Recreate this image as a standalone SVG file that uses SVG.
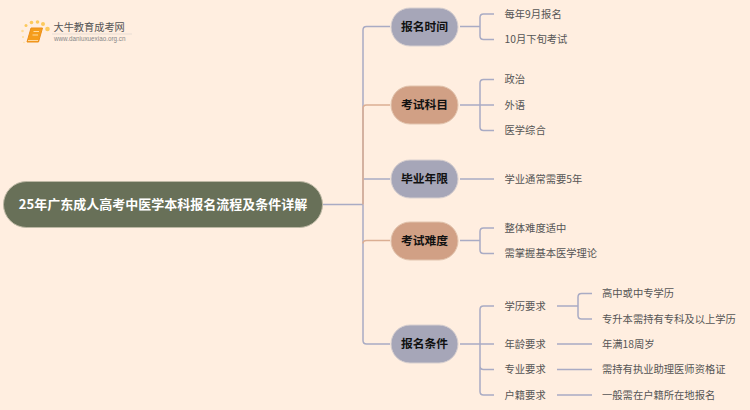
<svg xmlns="http://www.w3.org/2000/svg" width="750" height="410" viewBox="0 0 750 410">
<style>
text{font-family:"Noto Sans CJK SC","Noto Sans",sans-serif}
.c{fill:none;stroke:#a9abc4;stroke-width:1.500}
.p{fill:none;stroke:#dbae93;stroke-width:1.500}
.b{font-size:11.800px;font-weight:700;fill:#111;text-anchor:middle}
.l{font-size:10.300px;fill:#555}
.g{fill:#a6a6b8;stroke:#d8d0d0;stroke-width:1}
.o{fill:#d1a085;stroke:#e2c4ae;stroke-width:1}
.s{fill:#fcc95c}
</style>
<rect width="750" height="410" fill="#ffeee0"/>
<g id="connectors">
<path class="c" d="M323 204.500H363M363 204.500V30Q363 26.500 366.500 26.500H390"/>
<path class="c" d="M363 204.500V340.500Q363 344 366.500 344H390"/>
<path class="c" d="M363 179H390"/>
<path class="p" d="M363 204.500V108.500Q363 105 366.500 105H390"/>
<path class="p" d="M363 243.500Q363 240.500 366.500 240.500H390"/>
<path class="c" d="M460 26.500H480M480 26.500V17.500Q480 14 483.500 14H494M480 26.500V36Q480 39.500 483.500 39.500H494"/>
<path class="c" d="M460 105H494M480 105V83Q480 79.500 483.500 79.500H494M480 105V127Q480 130.500 483.500 130.500H494"/>
<path class="c" d="M460 179H494"/>
<path class="c" d="M460 240.500H480M480 240.500V231.500Q480 228 483.500 228H494M480 240.500V250Q480 253.500 483.500 253.500H494"/>
<path class="c" d="M460 344H480M480 344V309.500Q480 306 483.500 306H494M480 344H494M480 344V366Q480 369.500 483.500 369.500H494M480 344V391.500Q480 395 483.500 395H494"/>
<path class="c" d="M557 306H578M578 306V297Q578 293.500 581.500 293.500H592M578 306V315.500Q578 319 581.500 319H592"/>
<path class="c" d="M557 344H592M557 369.500H592M557 395H592"/>
</g>
<g id="logo">
<circle class="s" cx="26" cy="25.500" r="1.500"/><circle class="s" cx="31.500" cy="22.500" r="1.800"/><circle class="s" cx="37.500" cy="22" r="1.800"/><circle class="s" cx="43" cy="24" r="2"/><circle class="s" cx="47.500" cy="29" r="2.300"/><circle cx="22.500" cy="31" r="1.300" fill="#ffdc96"/><circle cx="23" cy="37" r="1" fill="#ffdc96"/><circle cx="24" cy="42.500" r="0.800" fill="#ffe2aa"/>
<path d="M31 28H42.500L38.500 42H27Z" fill="#f59d1c" stroke="#ec8f1a" stroke-width="1"/>
<path d="M33.500 31.500H39M32.500 35H38" stroke="#ffdca0" stroke-width="1" fill="none"/>
<path d="M28 40.500H38" stroke="#ffd9a0" stroke-width="1"/>
<text x="53.500" y="31" font-size="10.200" fill="#555">大牛教育成考网</text>
<text x="54" y="41" style="font-family:'Liberation Sans',sans-serif" font-size="6.300" fill="#888">www.daniuxuexiao.org.cn</text>
<path d="M52 34H132" stroke="#e8ddd4" stroke-width="1"/>
</g>
<g id="root"><rect x="3.500" y="181.500" width="319" height="46" rx="23" fill="#687058" stroke="#bdb8a4" stroke-width="1"/>
<text x="163" y="209" font-size="13px" font-weight="700" fill="#fff" text-anchor="middle">25年广东成人高考中医学本科报名流程及条件详解</text></g>
<g id="n1"><rect class="g" x="391" y="8" width="67" height="38" rx="19"/><text class="b" x="424.500" y="31">报名时间</text></g>
<g id="n2"><rect class="o" x="391" y="86" width="67" height="38" rx="19"/><text class="b" x="424.500" y="109">考试科目</text></g>
<g id="n3"><rect class="g" x="391" y="160" width="67" height="38" rx="19"/><text class="b" x="424.500" y="183">毕业年限</text></g>
<g id="n4"><rect class="o" x="391" y="222" width="67" height="38" rx="19"/><text class="b" x="424.500" y="245">考试难度</text></g>
<g id="n5"><rect class="g" x="391" y="325" width="67" height="38" rx="19"/><text class="b" x="424.500" y="348">报名条件</text></g>
<g id="l1"><text class="l" x="504.500" y="17.500">每年9月报名</text></g>
<g id="l2"><text class="l" x="504.500" y="43">10月下旬考试</text></g>
<g id="l3"><text class="l" x="504.500" y="83">政治</text></g>
<g id="l4"><text class="l" x="504.500" y="108.500">外语</text></g>
<g id="l5"><text class="l" x="504.500" y="134">医学综合</text></g>
<g id="l6"><text class="l" x="504.500" y="182.500">学业通常需要5年</text></g>
<g id="l7"><text class="l" x="504.500" y="231.500">整体难度适中</text></g>
<g id="l8"><text class="l" x="504.500" y="257">需掌握基本医学理论</text></g>
<g id="l9"><text class="l" x="504.500" y="309.500">学历要求</text></g>
<g id="l10"><text class="l" x="504.500" y="347.500">年龄要求</text></g>
<g id="l11"><text class="l" x="504.500" y="373">专业要求</text></g>
<g id="l12"><text class="l" x="504.500" y="398.500">户籍要求</text></g>
<g id="l13"><text class="l" x="602" y="297">高中或中专学历</text></g>
<g id="l14"><text class="l" x="602" y="322.500">专升本需持有专科及以上学历</text></g>
<g id="l15"><text class="l" x="602" y="347.500">年满18周岁</text></g>
<g id="l16"><text class="l" x="602" y="373">需持有执业助理医师资格证</text></g>
<g id="l17"><text class="l" x="602" y="398.500">一般需在户籍所在地报名</text></g>
</svg>
